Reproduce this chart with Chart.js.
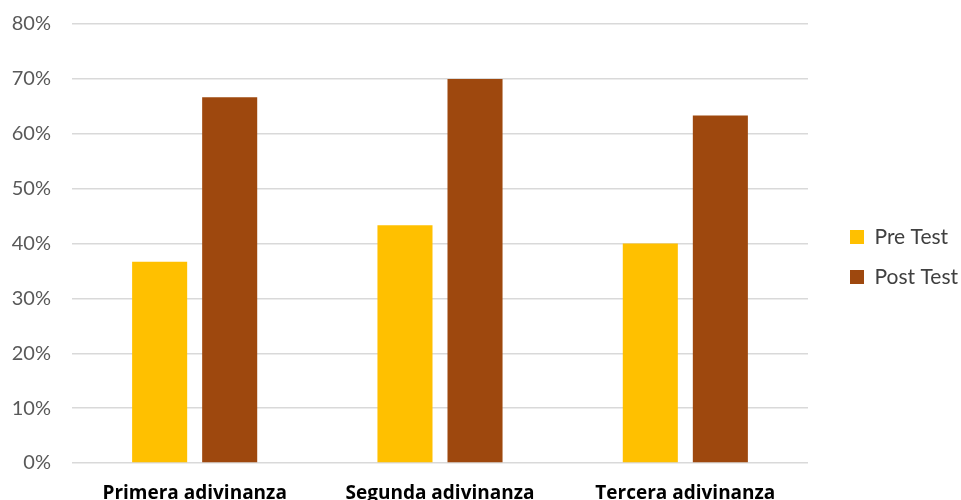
<!DOCTYPE html>
<html>
<head>
<meta charset="utf-8">
<script src="https://cdn.jsdelivr.net/npm/chart.js@4/dist/chart.umd.min.js"></script>
<style>
  html, body { margin: 0; padding: 0; background: #ffffff; }
  #wrap { width: 961px; height: 500px; position: relative; }
</style>
</head>
<body>
<div id="wrap"><canvas id="c" width="961" height="500"></canvas></div>
<script>
// Riddle results: share of correct answers before and after the activity
const categories = ['Primera adivinanza', 'Segunda adivinanza', 'Tercera adivinanza'];
const preTest = [0.3667, 0.4333, 0.40];
const postTest = [0.6667, 0.70, 0.6333];
const seriesNames = ['Pre Test', 'Post Test'];
const yTickMax = 0.8;
const yTickStep = 0.1;

new Chart(document.getElementById('c'), {
  type: 'bar',
  data: {
    labels: categories,
    datasets: [
      { label: seriesNames[0], data: preTest, backgroundColor: '#FFC000', borderWidth: 0 },
      { label: seriesNames[1], data: postTest, backgroundColor: '#9E480E', borderWidth: 0 }
    ]
  },
  options: {
    responsive: false,
    animation: false,
    layout: { padding: { top: 14, left: 0, right: -7, bottom: 0 } },
    datasets: { bar: { categoryPercentage: 0.571, barPercentage: 0.786 } },
    plugins: {
      tooltip: { enabled: false },
      legend: {
        position: 'right',
        labels: {
          boxWidth: 14,
          boxHeight: 14,
          padding: 19,
          color: '#404040',
          font: { family: 'Lato', size: 21 }
        }
      }
    },
    scales: {
      x: {
        grid: { display: false },
        border: { display: false },
        afterFit: s => { s.height = 37; },
        ticks: {
          color: '#000000',
          padding: 11,
          font: { family: 'Open Sans', size: 19, weight: 'bold' }
        }
      },
      y: {
        min: 0,
        max: yTickMax,
        grid: { color: '#d9d9d9', lineWidth: 1.5, drawTicks: false },
        border: { display: false },
        afterFit: s => { s.width = 72; s.paddingTop = 24; s.paddingBottom = 0; },
        ticks: {
          stepSize: yTickStep,
          padding: 21,
          color: '#595959',
          font: { family: 'Lato', size: 20 },
          callback: v => Math.round(v * 100) + '%'
        }
      },
      spacer: {
        position: 'right',
        grid: { display: false },
        border: { display: false },
        ticks: { display: false },
        afterFit: s => { s.width = 23; }
      }
    }
  }
});
</script>
</body>
</html>
